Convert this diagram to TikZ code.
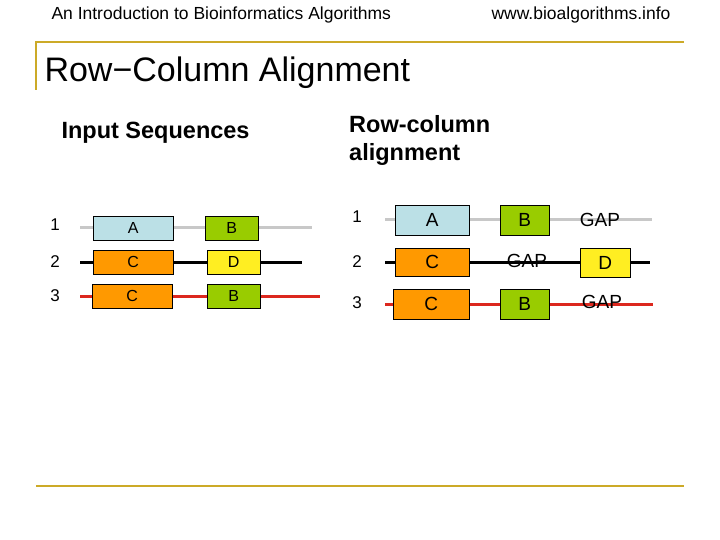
\documentclass[tikz,border=0pt]{standalone}
\usepackage{fontspec}
\setmainfont{Liberation Sans}
\usetikzlibrary{positioning}
\definecolor{gold}{RGB}{204,170,40}
\definecolor{boxblue}{RGB}{187,224,230}
\definecolor{boxgreen}{RGB}{153,204,0}
\definecolor{boxorange}{RGB}{255,153,0}
\definecolor{boxyellow}{RGB}{255,238,34}
\definecolor{seqgray}{RGB}{200,200,200}
\definecolor{seqred}{RGB}{220,40,30}

\begin{document}
\begin{tikzpicture}[x=1pt, y=-1pt,
    every node/.style={font=\fontsize{16}{18}\selectfont},
    seg/.style={draw, rectangle, inner sep=0pt, anchor=north west},
    seq/.style={line width=3pt},
    num/.style={font=\fontsize{17}{19}\selectfont}
]
\useasboundingbox (0,0) rectangle (720,540);

% Frame and headings
\node[anchor=west, font=\fontsize{17.5}{19}\selectfont] (course) at (48,15) {An Introduction to Bioinformatics Algorithms};
\node[anchor=east, font=\fontsize{17.5}{19}\selectfont] (site) at (674,15) {www.bioalgorithms.info};
\draw[gold, line width=2.5pt] (36,90) -- (36,42) -- (684,42);
\draw[gold, line width=2.5pt] (36,486) -- (684,486);
\node[anchor=west, font=\fontsize{34}{38}\selectfont] (title) at (41,73) {Row{\char"2212}Column Alignment};
\node[anchor=west, font=\bfseries\fontsize{23.5}{26}\selectfont] (inseq) at (58,133) {Input Sequences};
\node[anchor=north west, align=left, font=\bfseries\fontsize{23.5}{28}\selectfont, inner sep=0pt] (rcal) at (349,115) {Row-column\\alignment};

% Input sequences
\node[num] (l1) at (55,225) {1};
\node[num] (l2) at (55,262) {2};
\node[num] (l3) at (55,296) {3};
\coordinate (s1a) at (80,228);  \coordinate (s1b) at (312,228);
\coordinate (s2a) at (80,262);  \coordinate (s2b) at (302,262);
\coordinate (s3a) at (80,296);  \coordinate (s3b) at (320,296);
\draw[seq, seqgray] (s1a) -- (s1b);
\draw[seq, black] (s2a) -- (s2b);
\draw[seq, seqred] (s3a) -- (s3b);
\node[seg, fill=boxblue, minimum width=80pt, minimum height=24pt] (a1) at (93,216) {A};
\node[seg, fill=boxgreen, minimum width=53pt, minimum height=24pt] (b1) at (205,216) {B};
\node[seg, fill=boxorange, minimum width=80pt, minimum height=24pt] (c2) at (93,250) {C};
\node[seg, fill=boxyellow, minimum width=53pt, minimum height=24pt] (d2) at (207,250) {D};
\node[seg, fill=boxorange, minimum width=80pt, minimum height=24pt] (c3) at (92,284) {C};
\node[seg, fill=boxgreen, minimum width=53pt, minimum height=24pt] (b3) at (207,284) {B};

% Row-column alignment
\node[num] (r1) at (357,217) {1};
\node[num] (r2) at (357,262) {2};
\node[num] (r3) at (357,303) {3};
\coordinate (t1a) at (385,220);  \coordinate (t1b) at (652,220);
\coordinate (t2a) at (385,262);  \coordinate (t2b) at (650,262);
\coordinate (t3a) at (385,304);  \coordinate (t3b) at (653,304);
\draw[seq, seqgray] (t1a) -- (t1b);
\draw[seq, black] (t2a) -- (t2b);
\draw[seq, seqred] (t3a) -- (t3b);
\node[seg, fill=boxblue, minimum width=74pt, minimum height=30pt, font=\fontsize{19}{21}\selectfont] (ra1) at (395,205) {A};
\node[seg, fill=boxgreen, minimum width=49pt, minimum height=30pt, font=\fontsize{19}{21}\selectfont] (rb1) at (500,205) {B};
\node[font=\fontsize{19}{21}\selectfont] (gap1) at (600,220) {GAP};
\node[seg, fill=boxorange, minimum width=74pt, minimum height=28pt, font=\fontsize{19}{21}\selectfont] (rc2) at (395,248) {C};
\node[font=\fontsize{19}{21}\selectfont] (gap2) at (527,261) {GAP};
\node[seg, fill=boxyellow, minimum width=50pt, minimum height=29pt, font=\fontsize{19}{21}\selectfont] (rd2) at (580,248) {D};
\node[seg, fill=boxorange, minimum width=76pt, minimum height=30pt, font=\fontsize{19}{21}\selectfont] (rc3) at (393,289) {C};
\node[seg, fill=boxgreen, minimum width=49pt, minimum height=30pt, font=\fontsize{19}{21}\selectfont] (rb3) at (500,289) {B};
\node[font=\fontsize{19}{21}\selectfont] (gap3) at (602,302) {GAP};
\end{tikzpicture}
\end{document}
